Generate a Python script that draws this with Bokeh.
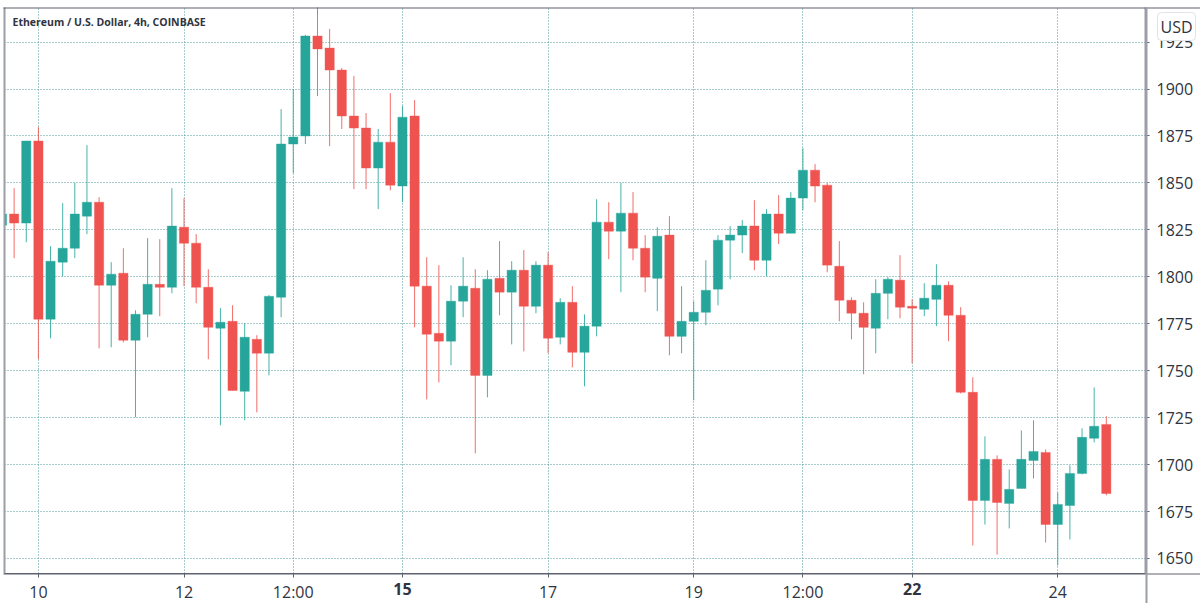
from bokeh.embed import file_html
from bokeh.resources import INLINE
from bokeh.plotting import figure
from bokeh.models import ColumnDataSource, Range1d, FixedTicker, LinearAxis, Label, BoxAnnotation

title_text = "Ethereum / U.S. Dollar, 4h, COINBASE"
open_ = [1827.5,1833.4,1828.6,1872.3,1777.4,1807.8,1815.2,1832.3,1839.7,1795.5,1801.9,1766.2,1780,1796,1794.4,1826.4,1817.9,1794.4,1772.6,1776.3,1739,1766.7,1759.3,1789.1,1870.7,1875,1928.2,1921.8,1910.1,1885.6,1879.2,1857.9,1871.7,1848.3,1885.6,1795,1769.9,1765.7,1787,1793.9,1747.5,1799.2,1791.8,1803.5,1784.3,1806.2,1767.8,1786.4,1759.8,1773.7,1829.1,1824.3,1833.9,1815.2,1799.2,1822.2,1768.3,1776.3,1781.1,1793.4,1819.5,1822.2,1827,1808.8,1833.4,1823.2,1841.9,1856.8,1848.8,1805.6,1787.5,1780.6,1772.6,1791.2,1798.2,1784.3,1782.7,1788,1795.5,1779.5,1738.5,1680.9,1702.8,1679.3,1687.3,1702.2,1706.5,1668.1,1678.2,1695.3,1714,1721.4]
high = [1833.4,1847.2,1872.3,1879.7,1816.3,1839.2,1850,1870.1,1842.4,1807.8,1815.2,1782.2,1820.6,1820,1847.2,1841.9,1822.7,1804,1783.3,1784.8,1775.3,1768.9,1790.2,1889.3,1900,1928.8,1943.7,1932,1911.2,1906.9,1887.2,1878.7,1897.8,1890.9,1894.1,1810.4,1806.2,1795.5,1810.4,1804,1803.5,1819,1808.3,1814.2,1808.3,1813.1,1788.6,1795,1780,1841.3,1839.7,1850,1845.1,1822.2,1826.4,1832.3,1795,1787,1808.8,1822.2,1827,1830.2,1840.8,1836,1843.5,1845.1,1868.5,1860,1850,1819,1789.1,1786.4,1798.7,1799.8,1811.5,1788,1796.6,1806.7,1797.6,1783.8,1746.5,1715,1704.9,1697.4,1718.2,1723.6,1708.1,1685.2,1699.6,1719.3,1741.1,1725.7]
low = [1827.5,1809.9,1818.4,1756.1,1767.3,1800.3,1809.9,1822.7,1761.9,1762.5,1765.1,1725.2,1767.8,1779,1791.2,1795,1785.9,1756.1,1720.9,1739.5,1723.6,1727.8,1747.5,1778.5,1855.2,1870.7,1896.2,1869.6,1878.7,1846.7,1846.7,1836,1846.1,1839.7,1773.1,1734.7,1743.8,1752.9,1778.5,1706,1735.8,1779.5,1764,1760.3,1780.6,1759.3,1764,1751.8,1741.7,1768.3,1809.4,1791.8,1808.8,1791.8,1781.7,1758.2,1759.3,1734.2,1774.2,1784.8,1798.7,1812.6,1803.5,1800.3,1817.4,1823.2,1835.5,1839.7,1802.4,1776.3,1766.7,1748.1,1759.3,1777.4,1777.9,1753.9,1779,1773.7,1765.7,1737.9,1656.9,1668.1,1652.1,1666,1687.3,1692.6,1658.5,1646.3,1660.1,1694.8,1711.8,1683.6]
close = [1833.4,1828.6,1872.3,1777.4,1808.3,1815.2,1833.4,1839.7,1795.5,1801.4,1766.2,1780,1796,1794.4,1827,1817.9,1794.4,1773.1,1775.8,1739.5,1767.8,1759.3,1789.6,1870.7,1874.4,1928.2,1921.3,1910.1,1885.6,1879.2,1857.9,1871.7,1848.8,1885,1795,1769.4,1765.7,1787,1795,1747.5,1798.7,1791.8,1803.5,1784.3,1806.2,1767.3,1786.4,1759.8,1773.7,1829.1,1824.3,1833.9,1815.2,1799.8,1821.6,1768.3,1776.3,1781.1,1792.8,1819.5,1822.2,1827,1808.8,1833.4,1823.2,1841.9,1856.8,1848.3,1806.2,1787.5,1780.6,1773.1,1791.2,1798.7,1783.8,1783.3,1788.6,1795.5,1779.5,1738.5,1680.9,1702.8,1679.8,1686.8,1702.8,1707,1668.1,1678.8,1695.3,1714.5,1720.4,1684.6]
x_tick_index = [3, 15, 24, 33, 45, 57, 66, 75, 87]
x_tick_labels = ["10", "12", "12:00", "15", "17", "19", "12:00", "22", "24"]
x_bold_index = [33, 75]
y_ticks = [1650, 1675, 1700, 1725, 1750, 1775, 1800, 1825, 1850, 1875, 1900, 1925]

GREEN, RED = "#26a69a", "#ef5350"
GRID = "#4f9a9c"
TEXT = "#2f3440"
BORDER = "#9a9ea6"
AXIS = "#5f636e"
FONT = "Open Sans"
Y_MIN, Y_MAX = 1642, 1943.4

idx = list(range(len(open_)))
colors = [GREEN if c >= o else RED for o, c in zip(open_, close)]
src = ColumnDataSource(dict(x=idx, o=open_, h=high, l=low, c=close, color=colors,
                            top=[max(a, b) for a, b in zip(open_, close)],
                            bottom=[min(a, b) for a, b in zip(open_, close)]))

p = figure(frame_width=1141, frame_height=566, output_backend="svg", toolbar_location=None,
           x_range=Range1d(0.206, 94.23), y_range=Range1d(Y_MIN, Y_MAX),
           x_axis_location=None, y_axis_location=None,
           min_border_left=4, min_border_top=7, min_border_right=55, min_border_bottom=30,
           margin=(0, 0, 0, 0), background_fill_color="white", border_fill_color="white")
p.outline_line_color = None

for dim in (p.xgrid, p.ygrid):
    dim.grid_line_color = GRID
    dim.grid_line_dash = [1, 2]
    dim.grid_line_width = 1
p.xgrid.ticker = FixedTicker(ticks=x_tick_index)
p.ygrid.ticker = FixedTicker(ticks=y_ticks)

xax = LinearAxis(ticker=FixedTicker(ticks=x_tick_index),
                 major_label_overrides={i: ("" if i in x_bold_index else s)
                                        for i, s in zip(x_tick_index, x_tick_labels)})
xax.major_label_text_font = FONT
xax.major_label_text_font_size = "16px"
xax.major_label_text_color = TEXT
xax.axis_line_color = AXIS
xax.major_tick_line_color = AXIS
xax.major_tick_out = 4
xax.major_tick_in = 0
xax.minor_tick_line_color = None
xax.major_label_standoff = 3
p.add_layout(xax, "below")

xax_bold = LinearAxis(ticker=FixedTicker(ticks=x_bold_index),
                      major_label_overrides={i: s for i, s in zip(x_tick_index, x_tick_labels)
                                             if i in x_bold_index})
xax_bold.major_label_text_font = FONT
xax_bold.major_label_text_font_size = "16px"
xax_bold.major_label_text_font_style = "bold"
xax_bold.major_label_text_color = TEXT
xax_bold.axis_line_color = None
xax_bold.major_tick_line_color = None
xax_bold.minor_tick_line_color = None
xax_bold.major_tick_out = 0
xax_bold.major_tick_in = 0
xax_bold.major_label_standoff = -23
p.add_layout(xax_bold, "below")

yax = LinearAxis(ticker=FixedTicker(ticks=y_ticks))
yax.major_label_text_font = FONT
yax.major_label_text_font_size = "16px"
yax.major_label_text_color = TEXT
yax.axis_line_color = BORDER
yax.axis_line_width = 2
yax.major_tick_line_color = AXIS
yax.major_tick_out = 4
yax.major_tick_in = 0
yax.minor_tick_line_color = None
yax.major_label_standoff = 7
p.add_layout(yax, "right")

p.segment("x", "h", "x", "l", source=src, color="color", line_width=1, line_alpha=0.85)
p.vbar("x", 0.76, "top", "bottom", source=src, fill_color="color",
       line_color="color", line_alpha=0.4, line_width=1)

p.add_layout(Label(x=12, y=21, x_units="canvas", y_units="canvas", text=title_text,
                   text_font=FONT, text_font_style="bold", text_font_size="10.5px", text_color=TEXT,
                   text_baseline="middle", level="guide"))

# Transparent page-sized layer for the chart chrome that lies outside the plot frame.
q = figure(width=1200, height=603, output_backend="svg", toolbar_location=None,
           x_range=Range1d(0, 1200), y_range=Range1d(603, 0),
           x_axis_location=None, y_axis_location=None, min_border=0,
           background_fill_color=None, border_fill_color=None, outline_line_color=None,
           styles={"position": "absolute", "left": "0px", "top": "0px", "pointer-events": "none"})
q.xgrid.visible = False
q.ygrid.visible = False


def rule(left, right, top, bottom, color):
    q.add_layout(BoxAnnotation(left=left, right=right, top=top, bottom=bottom,
                               fill_color=color, fill_alpha=1, line_color=None))


rule(3, 5, 7, 573, BORDER)
rule(3, 1200, 7, 8, AXIS)
rule(3, 1200, 573, 574, AXIS)
rule(1145, 1147, 7, 603, BORDER)

q.add_layout(Label(x=1157, y=26, text="USD",
                   text_font=FONT, text_font_size="16px", text_color=TEXT, text_baseline="middle",
                   background_fill_color="white", border_line_color="#e2e3e6",
                   border_radius=4, padding=3))

open("out.html", "w").write(file_html([p, q], INLINE))
